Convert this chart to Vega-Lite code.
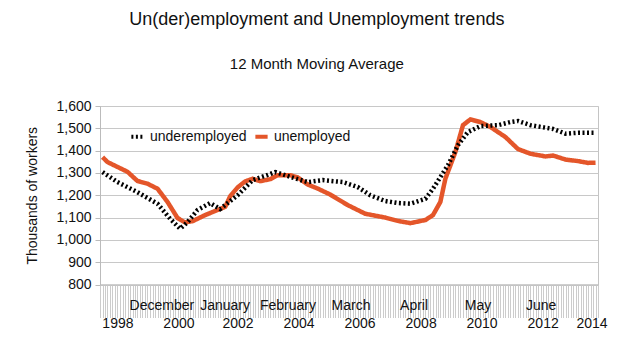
{
  "$schema": "https://vega.github.io/schema/vega-lite/v6.json",
  "width": 498,
  "height": 178.5,
  "padding": {"left": 25, "top": 11, "right": 10, "bottom": 5},
  "background": "white",
  "title": {
    "text": "Un(der)employment and Unemployment trends",
    "subtitle": "12 Month Moving Average",
    "font": "Liberation Sans",
    "subtitleFont": "Liberation Sans",
    "fontSize": 18,
    "subtitleFontSize": 15,
    "fontWeight": "normal",
    "color": "#111111",
    "subtitleColor": "#111111",
    "anchor": "middle",
    "frame": "bounds",
    "subtitlePadding": 28,
    "offset": 27
  },
  "config": {
    "view": {"stroke": "#c4c4c4"},
    "axisX": {
      "labels": false,
      "tickCount": {"interval": "month", "step": 1},
      "tickSize": 33,
      "tickColor": "#cccccc",
      "tickWidth": 1,
      "domainColor": "#bdbdbd",
      "grid": false
    },
    "axisY": {
      "labelFont": "Liberation Sans",
      "labelFontSize": 14,
      "labelColor": "#111111",
      "labelOverlap": false,
      "tickSize": 5,
      "tickColor": "#bbbbbb",
      "domainColor": "#bbbbbb",
      "gridColor": "#c8c8c8",
      "titleFont": "Liberation Sans",
      "titleFontSize": 14,
      "titleFontWeight": "normal",
      "titleColor": "#111111",
      "titlePadding": 16,
      "labelPadding": 4
    }
  },
  "datasets": {
    "series": [
      {"series": "unemployed", "month": "1998-01", "value": 1371},
      {"series": "unemployed", "month": "1998-03", "value": 1349},
      {"series": "unemployed", "month": "1998-07", "value": 1327},
      {"series": "unemployed", "month": "1998-11", "value": 1305},
      {"series": "unemployed", "month": "1999-03", "value": 1264},
      {"series": "unemployed", "month": "1999-07", "value": 1252},
      {"series": "unemployed", "month": "1999-11", "value": 1229},
      {"series": "unemployed", "month": "2000-03", "value": 1170},
      {"series": "unemployed", "month": "2000-07", "value": 1098},
      {"series": "unemployed", "month": "2000-10", "value": 1078},
      {"series": "unemployed", "month": "2001-01", "value": 1084},
      {"series": "unemployed", "month": "2001-06", "value": 1111},
      {"series": "unemployed", "month": "2001-11", "value": 1134},
      {"series": "unemployed", "month": "2002-02", "value": 1148},
      {"series": "unemployed", "month": "2002-04", "value": 1195},
      {"series": "unemployed", "month": "2002-07", "value": 1235},
      {"series": "unemployed", "month": "2002-10", "value": 1262},
      {"series": "unemployed", "month": "2003-01", "value": 1274},
      {"series": "unemployed", "month": "2003-04", "value": 1263},
      {"series": "unemployed", "month": "2003-08", "value": 1272},
      {"series": "unemployed", "month": "2003-11", "value": 1290},
      {"series": "unemployed", "month": "2004-04", "value": 1290},
      {"series": "unemployed", "month": "2004-07", "value": 1280},
      {"series": "unemployed", "month": "2004-11", "value": 1248},
      {"series": "unemployed", "month": "2005-03", "value": 1230},
      {"series": "unemployed", "month": "2005-08", "value": 1203},
      {"series": "unemployed", "month": "2006-03", "value": 1156},
      {"series": "unemployed", "month": "2006-10", "value": 1117},
      {"series": "unemployed", "month": "2007-06", "value": 1100},
      {"series": "unemployed", "month": "2007-11", "value": 1085},
      {"series": "unemployed", "month": "2008-04", "value": 1075},
      {"series": "unemployed", "month": "2008-10", "value": 1089},
      {"series": "unemployed", "month": "2009-01", "value": 1111},
      {"series": "unemployed", "month": "2009-04", "value": 1170},
      {"series": "unemployed", "month": "2009-06", "value": 1274},
      {"series": "unemployed", "month": "2009-10", "value": 1394},
      {"series": "unemployed", "month": "2010-01", "value": 1514},
      {"series": "unemployed", "month": "2010-04", "value": 1540},
      {"series": "unemployed", "month": "2010-08", "value": 1528},
      {"series": "unemployed", "month": "2010-12", "value": 1506},
      {"series": "unemployed", "month": "2011-06", "value": 1461},
      {"series": "unemployed", "month": "2011-11", "value": 1407},
      {"series": "unemployed", "month": "2012-04", "value": 1386},
      {"series": "unemployed", "month": "2012-10", "value": 1374},
      {"series": "unemployed", "month": "2013-01", "value": 1378},
      {"series": "unemployed", "month": "2013-06", "value": 1360},
      {"series": "unemployed", "month": "2013-11", "value": 1353},
      {"series": "unemployed", "month": "2014-03", "value": 1345},
      {"series": "unemployed", "month": "2014-06", "value": 1346},
      {"series": "underemployed", "month": "1998-01", "value": 1304},
      {"series": "underemployed", "month": "1998-07", "value": 1259},
      {"series": "underemployed", "month": "1999-03", "value": 1214},
      {"series": "underemployed", "month": "1999-11", "value": 1162},
      {"series": "underemployed", "month": "2000-04", "value": 1095},
      {"series": "underemployed", "month": "2000-08", "value": 1050},
      {"series": "underemployed", "month": "2000-11", "value": 1080},
      {"series": "underemployed", "month": "2001-03", "value": 1134},
      {"series": "underemployed", "month": "2001-08", "value": 1165},
      {"series": "underemployed", "month": "2001-12", "value": 1138},
      {"series": "underemployed", "month": "2002-07", "value": 1200},
      {"series": "underemployed", "month": "2003-01", "value": 1268},
      {"series": "underemployed", "month": "2003-07", "value": 1291},
      {"series": "underemployed", "month": "2003-10", "value": 1304},
      {"series": "underemployed", "month": "2004-02", "value": 1290},
      {"series": "underemployed", "month": "2004-07", "value": 1272},
      {"series": "underemployed", "month": "2004-11", "value": 1259},
      {"series": "underemployed", "month": "2005-05", "value": 1268},
      {"series": "underemployed", "month": "2006-01", "value": 1259},
      {"series": "underemployed", "month": "2006-07", "value": 1237},
      {"series": "underemployed", "month": "2006-12", "value": 1200},
      {"series": "underemployed", "month": "2007-06", "value": 1174},
      {"series": "underemployed", "month": "2007-11", "value": 1165},
      {"series": "underemployed", "month": "2008-04", "value": 1162},
      {"series": "underemployed", "month": "2008-10", "value": 1184},
      {"series": "underemployed", "month": "2009-01", "value": 1229},
      {"series": "underemployed", "month": "2009-07", "value": 1334},
      {"series": "underemployed", "month": "2009-11", "value": 1424},
      {"series": "underemployed", "month": "2010-03", "value": 1483},
      {"series": "underemployed", "month": "2010-08", "value": 1510},
      {"series": "underemployed", "month": "2011-03", "value": 1514},
      {"series": "underemployed", "month": "2011-08", "value": 1528},
      {"series": "underemployed", "month": "2011-11", "value": 1533},
      {"series": "underemployed", "month": "2012-04", "value": 1514},
      {"series": "underemployed", "month": "2013-01", "value": 1497},
      {"series": "underemployed", "month": "2013-06", "value": 1476},
      {"series": "underemployed", "month": "2013-11", "value": 1480},
      {"series": "underemployed", "month": "2014-06", "value": 1480}
    ],
    "labels": [
      {"label": "1998", "date": "1998-07-07", "row": "year"},
      {"label": "December", "date": "1999-12-24", "row": "month"},
      {"label": "2000", "date": "2000-07-18", "row": "year"},
      {"label": "January", "date": "2002-01-30", "row": "month"},
      {"label": "2002", "date": "2002-07-06", "row": "year"},
      {"label": "February", "date": "2004-03-05", "row": "month"},
      {"label": "2004", "date": "2004-07-17", "row": "year"},
      {"label": "March", "date": "2006-04-10", "row": "month"},
      {"label": "2006", "date": "2006-07-29", "row": "year"},
      {"label": "April", "date": "2008-05-16", "row": "month"},
      {"label": "2008", "date": "2008-08-10", "row": "year"},
      {"label": "May", "date": "2010-07-02", "row": "month"},
      {"label": "2010", "date": "2010-08-20", "row": "year"},
      {"label": "June", "date": "2012-08-08", "row": "month"},
      {"label": "2012", "date": "2012-09-02", "row": "year"},
      {"label": "2014", "date": "2014-04-20", "row": "year"}
    ]
  },
  "layer": [
    {
      "data": {"name": "series"},
      "mark": {"type": "line", "strokeWidth": 4.5, "strokeCap": "butt"},
      "encoding": {
        "x": {"field": "month", "type": "temporal", "title": null,
              "scale": {"domain": [{"year": 1997, "month": 12, "date": 1}, {"year": 2014, "month": 7, "date": 1}]}},
        "y": {"field": "value", "type": "quantitative", "title": "Thousands of workers",
              "scale": {"domain": [800, 1600], "nice": false, "zero": false},
              "axis": {"values": [800, 900, 1000, 1100, 1200, 1300, 1400, 1500, 1600], "format": ",d", "labelOverlap": false}},
        "color": {"field": "series", "type": "nominal", "title": null,
                  "scale": {"domain": ["underemployed", "unemployed"], "range": ["#000000", "#e4562a"]},
                  "legend": {"orient": "none", "legendX": 29, "legendY": 22, "direction": "horizontal",
                             "symbolType": "stroke", "symbolStrokeWidth": 4, "symbolSize": 150,
                             "labelFont": "Liberation Sans", "labelFontSize": 14, "labelColor": "#111111",
                             "columnPadding": 0, "labelOffset": 4}},
        "strokeDash": {"field": "series", "type": "nominal", "title": null,
                  "scale": {"domain": ["underemployed", "unemployed"], "range": [[2, 2.5], [1, 0]]},
                  "legend": {"orient": "none", "legendX": 29, "legendY": 22, "direction": "horizontal",
                             "symbolType": "stroke", "symbolStrokeWidth": 4, "symbolSize": 150,
                             "labelFont": "Liberation Sans", "labelFontSize": 14, "labelColor": "#111111",
                             "columnPadding": 0, "labelOffset": 4}}
      }
    },
    {
      "data": {"name": "labels"},
      "transform": [{"filter": "datum.row == 'month'"}],
      "mark": {"type": "text", "font": "Liberation Sans", "fontSize": 14, "color": "#111111", "align": "center", "baseline": "middle"},
      "encoding": {
        "x": {"field": "date", "type": "temporal", "title": null,
              "scale": {"domain": [{"year": 1997, "month": 12, "date": 1}, {"year": 2014, "month": 7, "date": 1}]}},
        "y": {"datum": 704, "type": "quantitative", "title": "Thousands of workers",
              "scale": {"domain": [800, 1600], "nice": false, "zero": false},
              "axis": {"values": [800, 900, 1000, 1100, 1200, 1300, 1400, 1500, 1600], "format": ",d", "labelOverlap": false}},
        "text": {"field": "label"}
      }
    },
    {
      "data": {"name": "labels"},
      "transform": [{"filter": "datum.row == 'year'"}],
      "mark": {"type": "text", "font": "Liberation Sans", "fontSize": 14, "color": "#111111", "align": "center", "baseline": "middle"},
      "encoding": {
        "x": {"field": "date", "type": "temporal", "title": null,
              "scale": {"domain": [{"year": 1997, "month": 12, "date": 1}, {"year": 2014, "month": 7, "date": 1}]}},
        "y": {"datum": 621, "type": "quantitative", "title": "Thousands of workers",
              "scale": {"domain": [800, 1600], "nice": false, "zero": false},
              "axis": {"values": [800, 900, 1000, 1100, 1200, 1300, 1400, 1500, 1600], "format": ",d", "labelOverlap": false}},
        "text": {"field": "label"}
      }
    }
  ]
}
